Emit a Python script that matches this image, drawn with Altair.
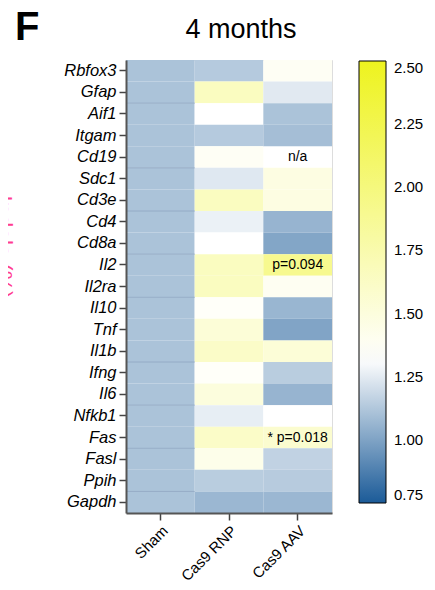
import altair as alt
import pandas as pd

genes = ["Rbfox3", "Gfap", "Aif1", "Itgam", "Cd19", "Sdc1", "Cd3e", "Cd4", "Cd8a",
         "Il2", "Il2ra", "Il10", "Tnf", "Il1b", "Ifng", "Il6", "Nfkb1", "Fas",
         "Fasl", "Ppih", "Gapdh"]
groups = ["Sham", "Cas9 RNP", "Cas9 AAV"]

sham = [1.11, 1.11, 1.11, 1.11, 1.11, 1.11, 1.11, 1.11, 1.11, 1.11, 1.11,
        1.11, 1.11, 1.11, 1.11, 1.11, 1.11, 1.11, 1.11, 1.11, 1.11]
rnp = [1.135, 1.65, 1.32, 1.135, 1.37, 1.24, 1.65, 1.27, 1.32, 1.65, 1.65,
       1.35, 1.53, 1.61, 1.35, 1.50, 1.26, 1.61, 1.43, 1.145, 1.07]
aav = [1.38, 1.245, 1.11, 1.095, None, 1.47, 1.47, 1.06, 1.01, 1.91, 1.39,
       1.065, 1.005, 1.53, 1.145, 1.06, 1.32, 1.57, 1.165, 1.14, 1.07]

ann_gene = ["Cd19", "Il2", "Fas"]
ann_group = ["Cas9 AAV", "Cas9 AAV", "Cas9 AAV"]
ann_text = ["n/a", "p=0.094", "* p=0.018"]

sham_breaks = ["Gfap", "Cd19", "Cd3e", "Cd8a", "Il2ra", "Il1b", "Il6", "Fas", "Ppih"]

legend_ticks = [0.75, 1.00, 1.25, 1.50, 1.75, 2.00, 2.25, 2.50]

panel_letter = "F"
panel_title = "4 months"
side_label = "Indels (%)"

rows = []
for g, vals in zip(groups, [sham, rnp, aav]):
    for gene, v in zip(genes, vals):
        rows.append({"gene": gene, "group": g, "value": v})
df = pd.DataFrame(rows)
df = df[df["value"].notna()]

ann = pd.DataFrame({"gene": ann_gene, "group": ann_group, "text": ann_text})
brk = pd.DataFrame({"gene": sham_breaks})

W, H = 206, 453
FONT = "Liberation Sans"

xenc = alt.X("group:N", sort=groups, scale=alt.Scale(paddingInner=0, paddingOuter=0),
             axis=alt.Axis(title=None, labelAngle=-45, labelAlign="right",
                           labelBaseline="top", labelFontSize=15, labelColor="#000",
                           labelPadding=3, tickSize=7, tickWidth=1.5, tickColor="#444",
                           domainColor="#555", domainWidth=2, labelFont=FONT))
yenc = alt.Y("gene:N", sort=genes, scale=alt.Scale(paddingInner=0, paddingOuter=0),
             axis=alt.Axis(title=None, labelFontSize=16.5, labelFontStyle="italic",
                           labelColor="#000", labelPadding=3, tickSize=7, tickWidth=1.5,
                           tickColor="#444", domainColor="#555", domainWidth=2,
                           labelFont=FONT))

heat = alt.Chart(df).mark_rect().encode(
    x=xenc,
    y=yenc,
    color=alt.Color("value:Q",
                    scale=alt.Scale(domain=[0.75, 1.32, 2.5],
                                    range=["#1b5b98", "#ffffff", "#eef31e"],
                                    interpolate="rgb", clamp=True),
                    legend=alt.Legend(title=None, orient="none", legendX=233, legendY=1,
                                      direction="vertical", gradientLength=442,
                                      gradientThickness=27, gradientStrokeColor="#000",
                                      gradientStrokeWidth=1, values=legend_ticks,
                                      format=".2f", labelFontSize=15, labelColor="#000",
                                      labelFont=FONT, labelOffset=8, labelOverlap=False,
                                      labelBaseline="middle")),
)

lines = alt.Chart(brk).mark_rule(color="#94abc6", strokeWidth=1).encode(
    y=alt.Y("gene:N", sort=genes, bandPosition=1),
    x=alt.value(0),
    x2=alt.value(W / 3),
)

texts = alt.Chart(ann).mark_text(fontSize=14, color="#000", font=FONT).encode(
    x=alt.X("group:N", sort=groups),
    y=alt.Y("gene:N", sort=genes),
    text="text:N",
)

letter = alt.Chart(pd.DataFrame({"t": [panel_letter]})).mark_text(
    fontSize=40, fontWeight="bold", font=FONT, align="left", baseline="alphabetic",
    color="#000").encode(x=alt.value(-111), y=alt.value(-20), text="t:N")

title = alt.Chart(pd.DataFrame({"t": [panel_title]})).mark_text(
    fontSize=27, font=FONT, align="center", baseline="alphabetic",
    color="#000").encode(x=alt.value(115), y=alt.value(-22), text="t:N")

pink = alt.Chart(pd.DataFrame({"t": [side_label]})).mark_text(
    fontSize=23, font=FONT, angle=90, align="center", baseline="alphabetic",
    color="#ff3d8f").encode(x=alt.value(-131), y=alt.value(187), text="t:N")

chart = alt.layer(heat, lines, texts, letter, title, pink).properties(
    width=W, height=H,
    autosize=alt.AutoSizeParams(type="none"),
    padding={"left": 118, "top": 52, "right": 95, "bottom": 77},
).configure_view(stroke="#333", strokeWidth=1).configure(background="white")

chart.save("out.html", embed_options={"renderer": "svg", "actions": False})
